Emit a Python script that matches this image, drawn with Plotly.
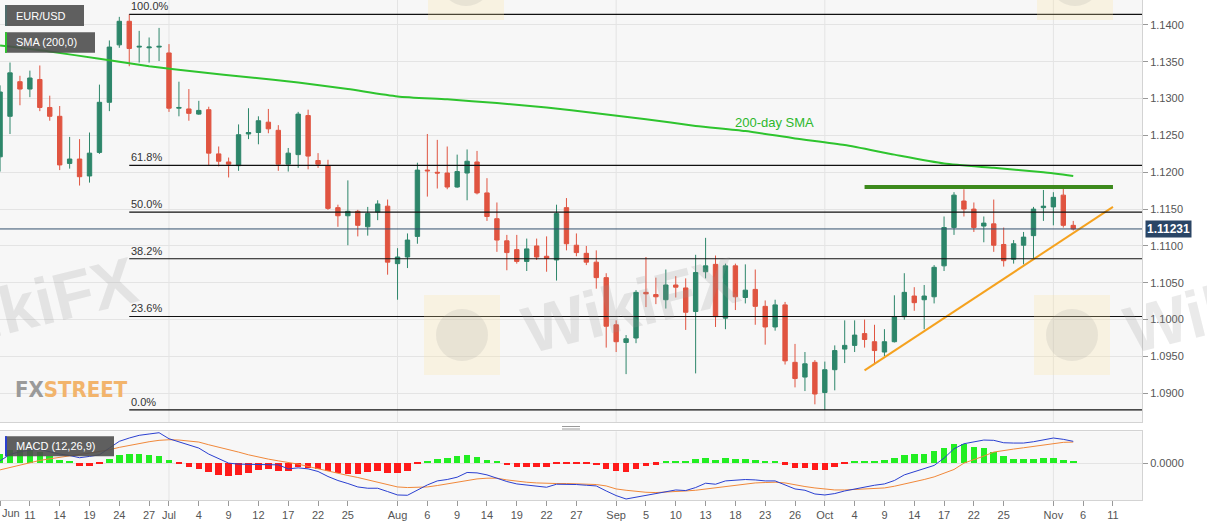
import pandas as pd
import plotly.graph_objects as go

# ---------------- data ----------------
sessions = pd.bdate_range("2019-06-06", "2019-11-11")   # weekday sessions on the time axis

# Daily EUR/USD candles, Jun 6 .. Nov 5 2019
opens = [1.1221, 1.1276, 1.1323, 1.1313, 1.1326, 1.1288, 1.1276, 1.1212, 1.1218, 1.1195,
         1.1227, 1.1295, 1.1373, 1.1405, 1.1370, 1.1369, 1.1370, 1.1362, 1.1287, 1.1286,
         1.1279, 1.1285, 1.1225, 1.1214, 1.1209, 1.1252, 1.1254, 1.1268, 1.1257, 1.1211,
         1.1224, 1.1277, 1.1216, 1.1209, 1.1152, 1.1141, 1.1147, 1.1126, 1.1146, 1.1154,
         1.1076, 1.1085, 1.1113, 1.1203, 1.1200, 1.1199, 1.1180, 1.1199, 1.1214, 1.1172,
         1.1137, 1.1107, 1.1095, 1.1079, 1.1100, 1.1086, 1.1081, 1.1152, 1.1101, 1.1090,
         1.1078, 1.1057, 1.0993, 1.0969, 1.0975, 1.1037, 1.1034, 1.1027, 1.1047, 1.1043,
         1.1011, 1.1065, 1.1075, 1.1002, 1.1073, 1.1030, 1.1041, 1.1018, 1.0990, 1.1020,
         1.0942, 1.0922, 1.0942, 1.0901, 1.0932, 1.0960, 1.0965, 1.0981, 1.0970, 1.0956,
         1.0970, 1.1004, 1.1032, 1.1027, 1.1031, 1.1073, 1.1125, 1.1161, 1.1150, 1.1127,
         1.1130, 1.1102, 1.1082, 1.1101, 1.1114, 1.1152, 1.1153, 1.1169, 1.1128]
highs = [1.1318, 1.1349, 1.1331, 1.1338, 1.1345, 1.1304, 1.1290, 1.1248, 1.1245, 1.1254,
         1.1319, 1.1379, 1.1411, 1.14145, 1.1392, 1.1383, 1.1396, 1.1374, 1.1323, 1.1313,
         1.1297, 1.1289, 1.1235, 1.1220, 1.1265, 1.1287, 1.1276, 1.1286, 1.1264, 1.1233,
         1.1282, 1.1285, 1.1226, 1.1217, 1.1156, 1.1189, 1.1149, 1.1153, 1.1162, 1.1163,
         1.1097, 1.1117, 1.1213, 1.1252, 1.1244, 1.1235, 1.1224, 1.1231, 1.1229, 1.1192,
         1.1159, 1.1115, 1.1115, 1.1110, 1.1110, 1.1113, 1.1156, 1.1165, 1.1117, 1.1100,
         1.1094, 1.1063, 1.0999, 1.0979, 1.1040, 1.1085, 1.1057, 1.1068, 1.1059, 1.1056,
         1.1088, 1.1111, 1.1087, 1.1076, 1.1076, 1.1075, 1.1068, 1.1026, 1.1027, 1.1024,
         1.0967, 1.0956, 1.0945, 1.0943, 1.0965, 1.0999, 1.0999, 1.1000, 1.0993, 1.0987,
         1.1033, 1.1063, 1.1044, 1.1047, 1.1074, 1.1140, 1.1173, 1.1177, 1.1159, 1.1140,
         1.1163, 1.1125, 1.1108, 1.1119, 1.1153, 1.1176, 1.1173, 1.1178, 1.1134]
lows = [1.1201, 1.1252, 1.1291, 1.1302, 1.1283, 1.1270, 1.1203, 1.1205, 1.1182, 1.1186,
        1.1225, 1.1283, 1.1369, 1.1344, 1.1349, 1.1349, 1.1351, 1.1282, 1.1276, 1.1270,
        1.1278, 1.1209, 1.1208, 1.1193, 1.1202, 1.1245, 1.1238, 1.1253, 1.1202, 1.1201,
        1.1206, 1.1204, 1.1206, 1.1149, 1.1126, 1.1101, 1.1113, 1.1114, 1.1135, 1.1061,
        1.1027, 1.1070, 1.1103, 1.1167, 1.1178, 1.1177, 1.1179, 1.1162, 1.1170, 1.1134,
        1.1092, 1.1067, 1.1076, 1.1066, 1.1081, 1.1065, 1.1053, 1.1094, 1.1086, 1.1074,
        1.1042, 1.0962, 1.0956, 1.0926, 1.0968, 1.1017, 1.1021, 1.1015, 1.1030, 1.0986,
        1.0927, 1.1056, 1.0990, 1.0987, 1.1013, 1.1022, 1.0993, 1.0966, 1.0985, 1.0939,
        1.0908, 1.0903, 1.0885, 1.08775, 1.0904, 1.0941, 1.0956, 1.0962, 1.0941, 1.0950,
        1.0969, 1.1000, 1.1012, 1.0987, 1.1022, 1.1066, 1.1115, 1.1140, 1.1119, 1.1105,
        1.1092, 1.1072, 1.1076, 1.1075, 1.1083, 1.1134, 1.1128, 1.1125, 1.1121]
closes = [1.1309, 1.1335, 1.1313, 1.1328, 1.1288, 1.1276, 1.1210, 1.1218, 1.1194, 1.1226,
          1.1295, 1.1370, 1.1405, 1.1368, 1.1371, 1.1370, 1.1371, 1.1287, 1.1288, 1.1280,
          1.1284, 1.1226, 1.1215, 1.1211, 1.1251, 1.1254, 1.1270, 1.1259, 1.1211, 1.1226,
          1.1279, 1.1222, 1.1211, 1.1151, 1.1141, 1.1147, 1.1128, 1.1144, 1.1157, 1.1078,
          1.1085, 1.1108, 1.1203, 1.1202, 1.1199, 1.1180, 1.1201, 1.1215, 1.1172, 1.1140,
          1.1108, 1.1091, 1.1079, 1.1096, 1.1085, 1.1083, 1.1144, 1.1103, 1.1091, 1.1078,
          1.1057, 1.0991, 1.0970, 1.0974, 1.1037, 1.1035, 1.1031, 1.1047, 1.1044, 1.1010,
          1.1064, 1.1073, 1.1004, 1.1073, 1.1031, 1.1040, 1.1018, 1.0990, 1.1020, 1.0944,
          1.0920, 1.0940, 1.0899, 1.0932, 1.0958, 1.0965, 1.0979, 1.0973, 1.0958, 1.0970,
          1.1004, 1.1037, 1.1023, 1.1032, 1.1071, 1.1125, 1.1169, 1.1150, 1.1125, 1.1131,
          1.1101, 1.1080, 1.1103, 1.1112, 1.1150, 1.1154, 1.1166, 1.1128, 1.11231]

# MACD (12,26,9)
macd_line = [0.00023, 0.00087, 0.00113, 0.00130, 0.00137, 0.00110, 0.00090, 0.00076, 0.00054, 0.00067,
             0.00083, 0.00150, 0.00217, 0.00250, 0.00277, 0.00290, 0.00303, 0.00243, 0.00210, 0.00183,
             0.00150, 0.00090, 0.00043, 0.00000, -0.00010, -0.00010, -0.00010, -0.00010, -0.00017, -0.00057,
             -0.00047, -0.00057, -0.00083, -0.00133, -0.00173, -0.00203, -0.00237, -0.00250, -0.00250, -0.00283,
             -0.00317, -0.00320, -0.00267, -0.00217, -0.00177, -0.00163, -0.00140, -0.00093, -0.00097, -0.00117,
             -0.00150, -0.00183, -0.00207, -0.00220, -0.00230, -0.00240, -0.00210, -0.00210, -0.00213, -0.00220,
             -0.00227, -0.00277, -0.00323, -0.00357, -0.00340, -0.00323, -0.00307, -0.00290, -0.00267, -0.00273,
             -0.00243, -0.00200, -0.00210, -0.00177, -0.00173, -0.00163, -0.00167, -0.00177, -0.00177, -0.00217,
             -0.00257, -0.00270, -0.00307, -0.00317, -0.00303, -0.00277, -0.00257, -0.00233, -0.00220, -0.00207,
             -0.00173, -0.00117, -0.00083, -0.00057, -0.00023, 0.00050, 0.00143, 0.00193, 0.00210, 0.00230,
             0.00227, 0.00203, 0.00200, 0.00200, 0.00213, 0.00233, 0.00250, 0.00237, 0.00217]
signal_line = [-0.00067, -0.00043, -0.00017, 0.00007, 0.00027, 0.00043, 0.00060, 0.00073, 0.00087, 0.00100,
               0.00113, 0.00133, 0.00157, 0.00177, 0.00197, 0.00213, 0.00227, 0.00233, 0.00230, 0.00223,
               0.00210, 0.00183, 0.00160, 0.00133, 0.00110, 0.00083, 0.00060, 0.00040, 0.00023, 0.00007,
               -0.00010, -0.00033, -0.00057, -0.00077, -0.00100, -0.00123, -0.00143, -0.00167, -0.00190, -0.00217,
               -0.00237, -0.00243, -0.00243, -0.00237, -0.00223, -0.00207, -0.00190, -0.00173, -0.00157, -0.00150,
               -0.00150, -0.00167, -0.00180, -0.00190, -0.00197, -0.00203, -0.00203, -0.00203, -0.00207, -0.00210,
               -0.00213, -0.00227, -0.00257, -0.00270, -0.00283, -0.00290, -0.00293, -0.00290, -0.00283, -0.00277,
               -0.00270, -0.00257, -0.00243, -0.00233, -0.00220, -0.00210, -0.00197, -0.00193, -0.00190, -0.00197,
               -0.00217, -0.00233, -0.00247, -0.00260, -0.00267, -0.00267, -0.00263, -0.00257, -0.00250, -0.00247,
               -0.00230, -0.00210, -0.00187, -0.00163, -0.00137, -0.00103, -0.00063, 0.00000, 0.00033, 0.00070,
               0.00110, 0.00127, 0.00140, 0.00153, 0.00167, 0.00183, 0.00197, 0.00207, 0.00210]
macd_hist = [0.00090, 0.00130, 0.00130, 0.00123, 0.00110, 0.00067, 0.00030, 0.00010, -0.00033, -0.00033,
             -0.00010, 0.00040, 0.00083, 0.00093, 0.00093, 0.00083, 0.00070, 0.00027, -0.00010, -0.00040,
             -0.00057, -0.00093, -0.00117, -0.00133, -0.00117, -0.00097, -0.00073, -0.00060, -0.00077, -0.00077,
             -0.00043, -0.00050, -0.00057, -0.00083, -0.00100, -0.00107, -0.00110, -0.00093, -0.00077, -0.00100,
             -0.00100, -0.00083, -0.00010, 0.00023, 0.00043, 0.00050, 0.00067, 0.00077, 0.00060, 0.00033,
             0.00010, -0.00023, -0.00043, -0.00043, -0.00043, -0.00043, -0.00010, -0.00010, -0.00010, -0.00010,
             -0.00023, -0.00057, -0.00083, -0.00093, -0.00060, -0.00033, -0.00017, 0.00010, 0.00017, 0.00013,
             0.00037, 0.00053, 0.00030, 0.00053, 0.00043, 0.00043, 0.00027, 0.00013, 0.00013, -0.00017,
             -0.00050, -0.00050, -0.00073, -0.00067, -0.00037, -0.00010, 0.00010, 0.00020, 0.00023, 0.00027,
             0.00050, 0.00083, 0.00090, 0.00090, 0.00117, 0.00143, 0.00183, 0.00190, 0.00160, 0.00143,
             0.00110, 0.00070, 0.00043, 0.00040, 0.00043, 0.00047, 0.00050, 0.00030, 0.00010]

# 200-day SMA read at weekly points
sma_dates = ["2019-06-06", "2019-06-13", "2019-06-20", "2019-06-27", "2019-07-04", "2019-07-11",
             "2019-07-18", "2019-07-25", "2019-08-01", "2019-08-08", "2019-08-15", "2019-08-22",
             "2019-08-29", "2019-09-05", "2019-09-12", "2019-09-19", "2019-09-26", "2019-10-03",
             "2019-10-10", "2019-10-17", "2019-10-24", "2019-10-31", "2019-11-05"]
sma_values = [1.1372, 1.1364, 1.1354, 1.1344, 1.1336, 1.1329, 1.1322, 1.1313, 1.1303, 1.1299,
              1.1294, 1.1288, 1.1280, 1.1272, 1.1263, 1.1256, 1.1246, 1.1237, 1.1224, 1.1212,
              1.1206, 1.1200, 1.1195]

fib_ratios = [1.0, 0.618, 0.5, 0.382, 0.236, 0.0]
fib_labels = ["100.0%", "61.8%", "50.0%", "38.2%", "23.6%", "0.0%"]

resistance_dates = ["2019-10-07", "2019-11-11"]
resistance_values = [1.1180, 1.1180]
support_dates = ["2019-10-07", "2019-11-11"]
support_values = [1.0931, 1.1153]

tick_dates = ["2019-06-06", "2019-06-11", "2019-06-14", "2019-06-19", "2019-06-24", "2019-06-27",
              "2019-07-01", "2019-07-04", "2019-07-09", "2019-07-12", "2019-07-17", "2019-07-22",
              "2019-07-25", "2019-08-01", "2019-08-06", "2019-08-09", "2019-08-14", "2019-08-19",
              "2019-08-22", "2019-08-27", "2019-09-02", "2019-09-05", "2019-09-10", "2019-09-13",
              "2019-09-18", "2019-09-23", "2019-09-26", "2019-10-01", "2019-10-04", "2019-10-09",
              "2019-10-14", "2019-10-17", "2019-10-22", "2019-10-25", "2019-11-01", "2019-11-06",
              "2019-11-11"]
tick_text = ["Jun", "11", "14", "19", "24", "27", "Jul", "4", "9", "12", "17", "22", "25",
             "Aug", "6", "9", "14", "19", "22", "27", "Sep", "5", "10", "13", "18", "23", "26",
             "Oct", "4", "9", "14", "17", "22", "25", "Nov", "6", "11"]
month_dates = ["2019-07-01", "2019-08-01", "2019-09-02", "2019-10-01", "2019-11-01"]
price_ticks = [1.0900, 1.0950, 1.1000, 1.1050, 1.1100, 1.1150, 1.1200, 1.1250, 1.1300, 1.1350, 1.1400]


def pos(dates):
    return [int(i) for i in sessions.get_indexer(pd.to_datetime(dates))]


x = list(range(len(opens)))

# ---------------- styling / layout constants ----------------
UP, DOWN = "#2d866a", "#e05440"
GRID = "#e4e4e4"
PLOT_W, PLOT_H = 1142, 500
X_RANGE = [-0.007, 114.92]
Y_RANGE = [1.0861, 1.14339]
M_RANGE = [-0.00367, 0.00317]


def fx(px):
    return px / PLOT_W


def fy(py):
    return 1 - py / PLOT_H


fig = go.Figure()

fig.add_trace(go.Candlestick(
    x=x, open=opens, high=highs, low=lows, close=closes,
    increasing=dict(line=dict(color=UP, width=1), fillcolor=UP),
    decreasing=dict(line=dict(color=DOWN, width=1), fillcolor=DOWN),
    whiskerwidth=0, xaxis="x", yaxis="y", hoverinfo="skip"))

fig.add_trace(go.Scatter(x=pos(sma_dates), y=sma_values, mode="lines",
                         line=dict(color="#2ec42e", width=2, shape="spline", smoothing=0.6),
                         xaxis="x", yaxis="y", hoverinfo="skip"))

fig.add_trace(go.Scatter(x=pos(resistance_dates), y=resistance_values, mode="lines",
                         line=dict(color="#3d8a1d", width=4), xaxis="x", yaxis="y", hoverinfo="skip"))
fig.add_trace(go.Scatter(x=pos(support_dates), y=support_values, mode="lines",
                         line=dict(color="#f5a21f", width=2), xaxis="x", yaxis="y", hoverinfo="skip"))

# MACD panel
fig.add_trace(go.Bar(x=x, y=macd_hist, width=0.66,
                     marker=dict(color=["#22ee22" if v > 0 else "#ff1a1a" for v in macd_hist],
                                 line=dict(width=0)),
                     xaxis="x2", yaxis="y2", hoverinfo="skip"))
fig.add_trace(go.Scatter(x=x, y=signal_line, mode="lines", line=dict(color="#f0883a", width=1),
                         xaxis="x2", yaxis="y2", hoverinfo="skip"))
fig.add_trace(go.Scatter(x=x, y=macd_line, mode="lines", line=dict(color="#2a3fd0", width=1),
                         xaxis="x2", yaxis="y2", hoverinfo="skip"))

shapes = []
annotations = []

# month grid lines in both panels
for m in pos(month_dates):
    for yr in ("y domain", "y2 domain"):
        shapes.append(dict(type="line", xref="x", yref=yr, x0=m, x1=m, y0=0, y1=1,
                           line=dict(color=GRID, width=1), layer="below"))

# Fibonacci retracement from the swing high to the swing low
hi = max(highs)
lo = min(lows)
fib_start = highs.index(hi)
for r, lab in zip(fib_ratios, fib_labels):
    lvl = lo + r * (hi - lo)
    shapes.append(dict(type="line", xref="x", yref="y", x0=fib_start, x1=X_RANGE[1], y0=lvl, y1=lvl,
                       line=dict(color="#111111", width=1.2)))
    annotations.append(dict(xref="x", yref="y", x=fib_start, y=lvl, text=lab, showarrow=False,
                            xanchor="left", yanchor="bottom", yshift=0,
                            font=dict(size=11, color="#333333")))

# current price line + label
last = closes[-1]
shapes.append(dict(type="line", xref="paper", yref="y", x0=0, x1=1, y0=last, y1=last,
                   line=dict(color="#34506e", width=1)))
annotations.append(dict(xref="paper", yref="y", x=1, y=last, text="<b>%.5f</b>" % last, showarrow=False,
                        xanchor="left", yanchor="middle", xshift=3, bgcolor="#2a4565", borderpad=1,
                        font=dict(size=12, color="white")))

annotations.append(dict(xref="x", yref="y", x=77.9, y=1.12676, text="200-day SMA", showarrow=False,
                        xanchor="center", yanchor="middle", font=dict(size=13, color="#2cb82c")))

# legend boxes
boxes = [("EUR/USD", 5, 84, 5, 26, "#4f6a6a"),
         ("SMA (200,0)", 5, 95, 32.3, 52.7, "#2ec42e"),
         ("MACD (12,26,9)", 5, 114, 436.3, 456.3, "#2a3fd0")]
for text, x0, x1, y0, y1, stripe in boxes:
    shapes.append(dict(type="rect", xref="paper", yref="paper", x0=fx(x0), x1=fx(x1), y0=fy(y1), y1=fy(y0),
                       fillcolor="rgba(78,78,78,0.9)", line=dict(width=0)))
    shapes.append(dict(type="rect", xref="paper", yref="paper", x0=fx(x0), x1=fx(x0 + 2), y0=fy(y1),
                       y1=fy(y0), fillcolor=stripe, line=dict(width=0)))
    annotations.append(dict(xref="paper", yref="paper", x=fx(14), y=fy((y0 + y1) / 2), text=text,
                            showarrow=False, xanchor="left", yanchor="middle",
                            font=dict(size=11, color="white")))

# watermarks
for cx in (28, 630, 1232):
    annotations.append(dict(xref="paper", yref="paper", x=fx(cx), y=fy(305), text="<b>WikiFX</b>",
                            showarrow=False, textangle=-14, xanchor="center", yanchor="middle",
                            font=dict(size=66, color="rgba(150,150,150,0.20)")))
for cx, cy in ((462, 335), (1072, 335), (466, -20), (1075, -20)):
    shapes.append(dict(type="rect", xref="paper", yref="paper", x0=fx(cx - 38), x1=fx(cx + 38),
                       y0=fy(cy + 40), y1=fy(cy - 40), fillcolor="rgba(250,228,160,0.25)",
                       line=dict(width=0)))
    shapes.append(dict(type="circle", xref="paper", yref="paper", x0=fx(cx - 26), x1=fx(cx + 26),
                       y0=fy(cy + 26), y1=fy(cy - 26), fillcolor="rgba(150,150,150,0.16)",
                       line=dict(width=0)))
annotations.append(dict(xref="paper", yref="paper", x=fx(13), y=fy(389),
                        text="<span style='color:#9a9a9a'>FX</span><span style='color:#f2b46c'>STREET</span>",
                        showarrow=False, xanchor="left", yanchor="middle",
                        font=dict(size=22, weight="bold",
                                  family="Liberation Sans Narrow, DejaVu Sans Condensed, sans-serif")))

# panel splitter handle
for yy in (426.5, 429):
    shapes.append(dict(type="line", xref="paper", yref="paper", x0=fx(562), x1=fx(580), y0=fy(yy), y1=fy(yy),
                       line=dict(color="#9a9a9a", width=1)))

# first tick label sits at the left edge of the chart
first_label = tick_text[0]
annotations.append(dict(xref="paper", yref="paper", x=0, y=fy(513), text=first_label, showarrow=False,
                        xanchor="left", yanchor="middle", font=dict(size=11, color="#555555")))
axis_tick_text = [""] + tick_text[1:]

axis_common = dict(showline=True, mirror=True, linecolor="#d3d3d3", linewidth=1, zeroline=False)

fig.update_layout(
    width=1207, height=526,
    margin=dict(l=0, r=65, t=0, b=26, pad=0),
    paper_bgcolor="white", plot_bgcolor="#f7f7f7",
    showlegend=False, hovermode=False, bargap=0,
    font=dict(family="Liberation Sans, Arial, sans-serif", size=11, color="#555555"),
    boxgap=0.37,
    xaxis=dict(domain=[0, 1], anchor="y", range=X_RANGE, showticklabels=False, ticks="",
               showgrid=False, rangeslider=dict(visible=False), **axis_common),
    yaxis=dict(domain=[0.156, 1], anchor="x", side="right", range=Y_RANGE, tickvals=price_ticks,
               ticktext=["%.4f" % v for v in price_ticks], ticks="outside", ticklen=5, tickcolor="#999999",
               showgrid=True, gridcolor=GRID, **axis_common),
    xaxis2=dict(domain=[0, 1], anchor="y2", range=X_RANGE, matches="x", tickvals=pos(tick_dates),
                ticktext=axis_tick_text, ticks="outside", ticklen=5, tickcolor="#999999", showgrid=False,
                tickangle=0, **axis_common),
    yaxis2=dict(domain=[0, 0.1374], anchor="x2", side="right", range=M_RANGE, tickvals=[0],
                ticktext=["0.0000"], ticks="outside", ticklen=5, tickcolor="#999999",
                showgrid=True, gridcolor=GRID, **axis_common),
    shapes=shapes, annotations=annotations,
)

# page body without the browser's default 8px margin, so the figure sits at the window's corner
fig.write_html("out.html", config={"displayModeBar": False},
               post_script="document.body.style.margin='0';")
